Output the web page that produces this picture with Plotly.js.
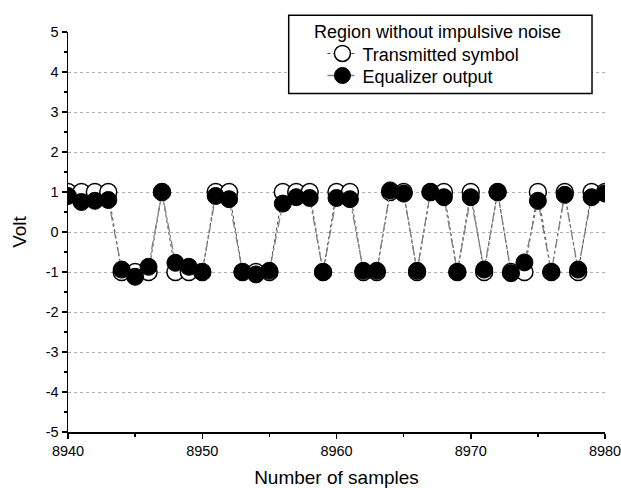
<!DOCTYPE html>
<html>
<head>
<meta charset="utf-8">
<script src="https://cdn.plot.ly/plotly-3.0.1.min.js"></script>
<style>html,body{margin:0;padding:0;background:#fff;}#chart{width:621px;height:488px;}</style>
</head>
<body>
<div id="chart"></div>
<script>
const samples = [];
for (let s = 8940; s <= 8980; s++) samples.push(s);

const transmitted = [
  1, 1, 1, 1, -1, -1, -1, 1, -1, -1,
  -1, 1, 1, -1, -1, -1, 1, 1, 1, -1,
  1, 1, -1, -1, 1, 1, -1, 1, 1, -1,
  1, -1, 1, -1, -1, 1, -1, 1, -1, 1,
  1
];

const equalizer = [
  0.90, 0.75, 0.78, 0.80, -0.94, -1.12, -0.87, 1.00, -0.77, -0.87,
  -1.00, 0.90, 0.82, -1.00, -1.06, -0.97, 0.71, 0.87, 0.85, -1.00,
  0.85, 0.82, -0.97, -0.97, 1.04, 0.96, -0.97, 1.00, 0.87, -1.00,
  0.87, -0.94, 1.00, -1.03, -0.76, 0.78, -1.00, 0.93, -0.94, 0.87,
  0.96
];

const yTickVals = [-5, -4, -3, -2, -1, 0, 1, 2, 3, 4, 5];
const yTickText = ['-5', '-4', '-3', '-2', '-1', '0', '1', '2', '3', '4', '5'];

const legendTitle = 'Region without impulsive noise';
const xTitle = 'Number of samples';
const yTitle = 'Volt';

const traces = [
  {
    x: samples, y: transmitted, name: 'Transmitted symbol', legend: 'legend',
    mode: 'lines+markers', type: 'scatter',
    line: {color: '#444', width: 1, dash: 'dot'},
    marker: {symbol: 'circle', size: 17, color: '#fff', line: {color: '#000', width: 1.5}}
  },
  {
    x: samples, y: equalizer, name: 'Equalizer output', legend: 'legend2',
    mode: 'lines+markers', type: 'scatter',
    line: {color: '#808080', width: 1.3, dash: 'dashdot'},
    marker: {symbol: 'circle', size: 17, color: '#000', line: {color: '#000', width: 1}}
  }
];

const legendStyle = {
  xanchor: 'left', yanchor: 'top',
  bgcolor: 'rgba(0,0,0,0)', borderwidth: 0,
  font: {size: 18, color: '#000'}
};

const layout = {
  width: 621, height: 488,
  margin: {l: 67.5, r: 16.3, t: 31.7, b: 56.3},
  paper_bgcolor: '#fff', plot_bgcolor: '#fff',
  font: {family: 'Liberation Sans, Arial, sans-serif', color: '#000', size: 15},
  showlegend: true,
  legend: Object.assign({x: 0.4738, y: 0.9918}, legendStyle),
  legend2: Object.assign({x: 0.4738, y: 0.9368}, legendStyle),
  shapes: [
    {type: 'rect', xref: 'paper', yref: 'paper', layer: 'above',
     x0: 0.411, x1: 0.9758, y0: 0.846, y1: 1.0418,
     fillcolor: '#fff', line: {color: '#000', width: 1.5}}
  ],
  annotations: [
    {text: legendTitle, xref: 'paper', yref: 'paper', x: 0.688, y: 1.0,
     xanchor: 'center', yanchor: 'middle', showarrow: false,
     font: {size: 18, color: '#000'}}
  ],
  xaxis: {
    range: [8940, 8980], dtick: 10, tick0: 8940,
    showline: true, linecolor: '#000', linewidth: 1.5,
    ticks: 'outside', ticklen: 5, tickwidth: 1.5, tickcolor: '#000',
    minor: {dtick: 5, ticklen: 3, tickwidth: 1.5, tickcolor: '#000', showgrid: false},
    showgrid: false, zeroline: false,
    ticklabeloverflow: 'allow',
    tickfont: {size: 14.5},
    title: {text: xTitle, font: {size: 19}, standoff: 18}
  },
  yaxis: {
    range: [-5, 5], tickmode: 'array', tickvals: yTickVals, ticktext: yTickText,
    showline: true, linecolor: '#000', linewidth: 1.5,
    ticks: 'outside', ticklen: 5, tickwidth: 1.5, tickcolor: '#000',
    minor: {dtick: 0.5, ticklen: 3, tickwidth: 1.5, tickcolor: '#000', showgrid: false},
    showgrid: true, gridcolor: '#b0b0b0', griddash: 'dot', gridwidth: 1,
    zeroline: false,
    tickfont: {size: 14.5},
    title: {text: yTitle, font: {size: 19}, standoff: 14}
  }
};

Plotly.newPlot('chart', traces, layout, {displayModeBar: false, staticPlot: true});
</script>
</body>
</html>
